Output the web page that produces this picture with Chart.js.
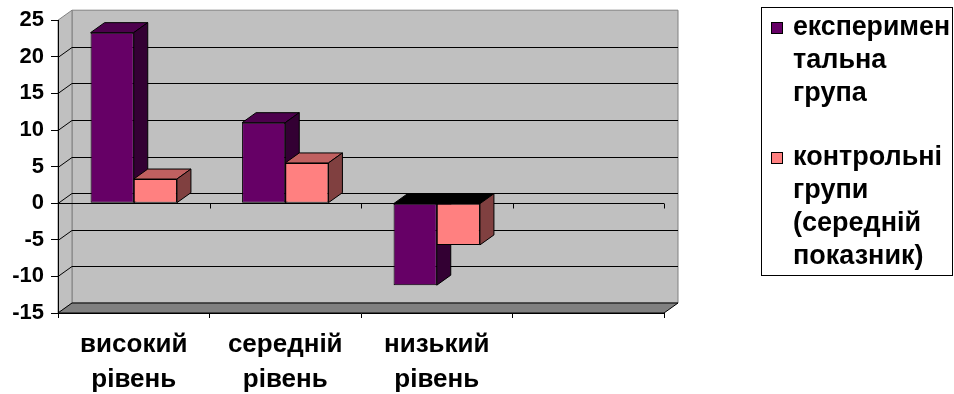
<!DOCTYPE html>
<html>
<head>
<meta charset="utf-8">
<script src="https://cdn.jsdelivr.net/npm/chart.js@4.4.0/dist/chart.umd.min.js"></script>
<style>
  html, body { margin: 0; padding: 0; background: #fff; }
</style>
</head>
<body>
<canvas id="levelsChart" width="954" height="394"></canvas>
<script>
const categories = [["високий", "рівень"], ["середній", "рівень"], ["низький", "рівень"], ""];
const seriesNames = [["експеримен", "тальна", "група"], ["контрольні", "групи", "(середній", "показник)"]];
const experimentalGroup = [23.3, 11, -11.2, null];
const controlGroups = [3.3, 5.5, -5.7, null];
const yTicks = [-15, -10, -5, 0, 5, 10, 15, 20, 25];

const frontColors = ["#660066", "#ff8080"];
const topColors = ["#4d004d", "#c06060"];
const sideColors = ["#330033", "#804040"];
const DX = 14, DY = -10;
const FONT = "'Liberation Sans', Arial, sans-serif";

function poly(ctx, pts, fill, stroke) {
    ctx.beginPath();
    ctx.moveTo(pts[0][0], pts[0][1]);
    for (let i = 1; i < pts.length; i++) ctx.lineTo(pts[i][0], pts[i][1]);
    ctx.closePath();
    if (fill) { ctx.fillStyle = fill; ctx.fill(); }
    if (stroke) { ctx.strokeStyle = stroke; ctx.stroke(); }
}

// back wall, side wall, floor and gridlines of the 3d box
const wallsPlugin = {
    id: "walls",
    beforeDraw(chart) {
        const { ctx, chartArea: a, scales: { x, y } } = chart;
        ctx.save();
        ctx.lineWidth = 1;
        const L = a.left, R = a.right, T = a.top, B = a.bottom;
        poly(ctx, [[L + DX, T + DY], [R + DX, T + DY], [R + DX, B + DY], [L + DX, B + DY]], "#c0c0c0", "#808080");
        poly(ctx, [[L, T], [L + DX, T + DY], [L + DX, B + DY], [L, B]], "#c0c0c0", "#808080");
        poly(ctx, [[L, B], [R, B], [R + DX, B + DY], [L + DX, B + DY]], "#808080", "#000");

        ctx.strokeStyle = "#000";
        yTicks.forEach(v => {
            if (v === yTicks[0] || v === yTicks[yTicks.length - 1]) return;
            const py = Math.round(y.getPixelForValue(v)) + 0.5;
            ctx.beginPath();
            ctx.moveTo(L, py);
            ctx.lineTo(L + DX, py + DY);
            ctx.lineTo(R + DX, py + DY);
            ctx.stroke();
        });

        // category axis crossing at zero
        const y0 = Math.round(y.getPixelForValue(0)) + 0.5;
        ctx.beginPath();
        ctx.moveTo(L, y0);
        ctx.lineTo(R, y0);
        for (let i = 0; i <= categories.length; i++) {
            const px = Math.round(x.getPixelForValue(i - 0.5)) + 0.5;
            ctx.moveTo(px, y0);
            ctx.lineTo(px, y0 + 5);
        }
        ctx.stroke();
        ctx.restore();
    }
};

// top and side faces of each column, drawn before the front faces
const barDepthPlugin = {
    id: "barDepth",
    beforeDatasetsDraw(chart) {
        const ctx = chart.ctx;
        ctx.save();
        ctx.lineWidth = 1;
        for (let i = 0; i < categories.length; i++) {
            chart.data.datasets.forEach((ds, d) => {
                const bar = chart.getDatasetMeta(d).data[i];
                const value = ds.data[i];
                if (!bar || value == null) return;
                const { x, y, base, width } = bar.getProps(["x", "y", "base", "width"], true);
                const left = x - width / 2, right = x + width / 2;
                const top = Math.min(y, base), bottom = Math.max(y, base);
                poly(ctx, [[left, top], [right, top], [right + DX, top + DY], [left + DX, top + DY]],
                    value < 0 ? "#000" : topColors[d], "#000");
                poly(ctx, [[right, top], [right + DX, top + DY], [right + DX, bottom + DY], [right, bottom]],
                    sideColors[d], "#000");
            });
        }
        ctx.restore();
    }
};

const legendPlugin = {
    id: "boxLegend",
    afterDraw(chart) {
        const ctx = chart.ctx;
        ctx.save();
        ctx.strokeStyle = "#000";
        ctx.lineWidth = 1;
        ctx.strokeRect(761.5, 7.5, 191, 268);
        ctx.font = "bold 27px " + FONT;
        ctx.fillStyle = "#000";
        ctx.textBaseline = "middle";
        const starts = [28, 158];
        seriesNames.forEach((lines, d) => {
            const yStart = starts[d];
            ctx.fillStyle = frontColors[d];
            ctx.fillRect(771, yStart - 6, 12, 12);
            ctx.strokeRect(771.5, yStart - 5.5, 11, 11);
            ctx.fillStyle = "#000";
            lines.forEach((line, k) => ctx.fillText(line, 793, yStart + k * 33, 157));
        });
        ctx.restore();
    }
};

new Chart(document.getElementById("levelsChart"), {
    type: "bar",
    data: {
        labels: categories,
        datasets: [{
            label: seriesNames[0].join(""),
            data: experimentalGroup,
            backgroundColor: frontColors[0],
            borderColor: "#000",
            borderWidth: 1,
            borderSkipped: false,
            categoryPercentage: 0.57,
            barPercentage: 1
        }, {
            label: seriesNames[1].join(" "),
            data: controlGroups,
            backgroundColor: frontColors[1],
            borderColor: "#000",
            borderWidth: 1,
            borderSkipped: false,
            categoryPercentage: 0.57,
            barPercentage: 1
        }]
    },
    plugins: [wallsPlugin, barDepthPlugin, legendPlugin],
    options: {
        responsive: false,
        animation: false,
        layout: { padding: { top: 18, right: 290, left: 0, bottom: 0 } },
        plugins: {
            legend: { display: false },
            tooltip: { enabled: false }
        },
        scales: {
            x: {
                grid: { offset: true, drawOnChartArea: false, color: "#000", tickLength: 5 },
                border: { color: "#000" },
                ticks: {
                    color: "#000",
                    font: { family: FONT, size: 26, weight: "bold", lineHeight: "35px" },
                    padding: 9,
                    maxRotation: 0,
                    autoSkip: false
                },
                afterFit(scale) { scale.height = 81; }
            },
            y: {
                min: -15,
                max: 25,
                grid: { drawOnChartArea: false, color: "#000", tickLength: 7 },
                border: { color: "#000" },
                ticks: {
                    stepSize: 5,
                    color: "#000",
                    font: { family: FONT, size: 22, weight: "bold" },
                    padding: 7
                },
                afterFit(scale) { scale.width = 58; }
            }
        }
    }
});
</script>
</body>
</html>
